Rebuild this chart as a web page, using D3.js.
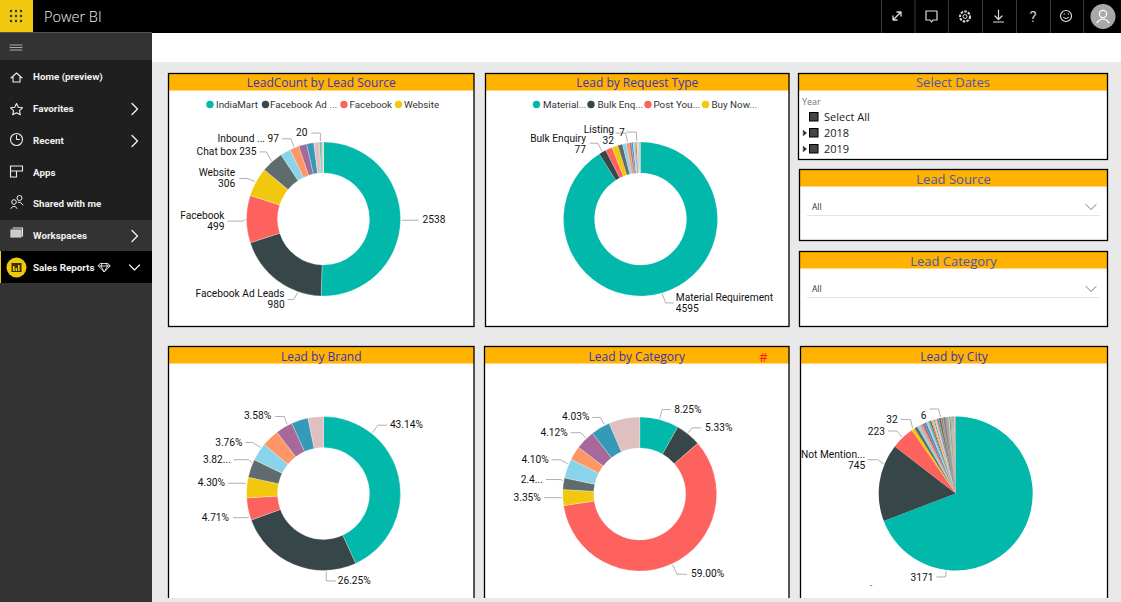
<!DOCTYPE html>
<html><head><meta charset="utf-8">
<script src="https://cdnjs.cloudflare.com/ajax/libs/d3/7.8.5/d3.min.js"></script>
<style>html,body{margin:0;padding:0;background:#fff;overflow:hidden}svg{display:block}text{font-family:Roboto,sans-serif}</style>
</head><body><svg id="c" width="1121" height="602"></svg>
<script>
// ---------- data ----------
const palette = ['#01B8AA','#374649','#FD625E','#F2C80F','#5F6B6D','#8AD4EB','#FE9666','#A66999','#3599B8','#DFBFBF','#4AC5BB','#5F6B6D','#FB8281','#F4D25A','#7F898A','#A4DDEE','#FDAB89','#B687AC','#28738A','#A78F8F','#168980','#293537','#BB4A4A','#B59525','#475052','#6A9FB0','#BD7150','#7B4F71','#1F5A6B','#8B7575','#7F898A','#5F6B6D','#A78F8F','#B59525','#7F898A','#6A9FB0','#D9C9A8','#B8B8A8'];
const sourceValues = [2538,980,499,306,235,108,97,85,75,60,20,10,7,5];
const sourceLegend = ['IndiaMart','Facebook Ad ...','Facebook','Website'];
const requestValues = [4595,77,72,65,50,40,32,22,18,15,11,10,7,7,6,5,5,4,4,4];
const requestLegend = ['Material...','Bulk Enq...','Post You...','Buy Now...'];
const brandValues = [43.14,26.25,4.71,4.30,3.82,3.76,3.70,3.58,3.50,3.24];
const categoryValues = [8.25,5.33,59.00,3.35,2.44,4.10,2.90,4.12,4.03,6.48];
const cityValues = [3171,745,223,32,30,28,25,22,20,18,16,14,13,12,11,10,9,8,8,7,7,7,6,6,6,6,6,6,6,5,5,5,5,5,5,5,5,4,4,4,4,4,4,4,4,3,3,3,3,3,3,2,2,2,2,2,2,2];
const yearItems = ['Select All','2018','2019'];
const panelTitles = ['LeadCount by Lead Source','Lead by Request Type','Lead by Brand','Lead by Category','Lead by City'];
const slicerTitles = ['Select Dates','Lead Source','Lead Category'];
const navItems = ['Home (preview)','Favorites','Recent','Apps','Shared with me','Workspaces','Sales Reports'];

// label texts per slice index
const sourceLabels = {0:['2538'],1:['Facebook Ad Leads','980'],2:['Facebook','499'],3:['Website','306'],4:['Chat box 235'],6:['Inbound ... 97'],10:['20']};
const requestLabels = {0:['Material Requirement','4595'],1:['Bulk Enquiry','77'],6:['Listing','32'],12:['7']};
const brandLabels = {0:['43.14%'],1:['26.25%'],2:['4.71%'],3:['4.30%'],4:['3.82...'],5:['3.76%'],7:['3.58%']};
const categoryLabels = {0:['8.25%'],1:['5.33%'],2:['59.00%'],3:['3.35%'],4:['2.4...'],5:['4.10%'],7:['4.12%'],8:['4.03%']};
const cityLabels = {0:['3171'],1:['Not Mention...','745'],2:['223'],3:['32'],22:['6']};

// ---------- layout ----------
// leader routing per slice: f = fraction along slice, dx/dy = elbow offset, h = run, ty = text shift, gap = text gap
const sourceLeaders = {0:{f:.5,dx:2,dy:0,h:15,gap:4},1:{f:.25,dx:-4,dy:7,h:6},2:{f:.5,dx:-2,dy:2,h:16},3:{f:.5,dx:-8,dy:-3,h:8,gap:4},4:{f:.5,dx:-5,dy:-9,h:7},6:{f:.5,dx:-3,dy:-8,h:9},10:{f:.5,dx:0,dy:-8,h:9,gap:4}};
const requestLeaders = {0:{f:.5,dx:3.5,dy:9,h:8,ty:.5,gap:2},1:{f:.5,dx:-4,dy:-8,h:8,ty:1.5,gap:4},6:{f:.5,dx:-2,dy:-9,h:10,ty:2,gap:1.5},12:{f:.5,dx:-.5,dy:-9,h:10,ty:1,gap:1.5}};
const brandLeaders = {0:{f:.25,dx:5.5,dy:-7.5,h:9},1:{f:.24,dx:0,dy:9.5,h:9.5,gap:2},2:{f:.17,dx:-2,dy:1,h:14,gap:4},3:{f:.65,dx:-2,dy:-1,h:16},4:{f:.8,dx:-3,dy:-3,h:15},5:{f:.75,dx:-8,dy:-5,h:7},7:{f:.73,dx:-3,dy:-8,h:9,gap:4}};
const categoryLeaders = {0:{f:.5,dx:2.5,dy:-9,h:8,gap:4},1:{f:.45,dx:4,dy:-5,h:9,gap:4},2:{f:.5,dx:4.5,dy:9.5,h:10,gap:4},3:{f:.5,dx:-3,dy:0,h:15},4:{f:.75,dx:-2,dy:-1,h:15},5:{f:.72,dx:-7,dy:-4,h:9},7:{f:.6,dx:-5,dy:-5,h:10},8:{f:.75,dx:-4,dy:-7,h:8}};
const cityLeaders = {0:{f:.75,dx:-1,dy:6,h:9,ty:1},1:{f:.74,dx:-6,dy:-4,h:10,ty:1,gap:2.5},2:{f:.5,dx:-5,dy:-6,h:9,ty:1},3:{f:.5,dx:-2,dy:-9,h:10},22:{f:.5,dx:-2,dy:-8,h:9,ty:7}};

const svg = d3.select('#c');
const rect=(x,y,w,h,fill,extra={})=>{const r=svg.append('rect').attr('x',x).attr('y',y).attr('width',w).attr('height',h).attr('fill',fill);for(const k in extra)r.attr(k,extra[k]);return r;};
const txt=(g,x,y,s,size,fill,anchor='start',fam)=>{const t=g.append('text').attr('x',x).attr('y',y).attr('fill',fill).attr('font-size',size).attr('text-anchor',anchor).attr('dominant-baseline','central').text(s);if(fam)t.style('font-family',fam);return t;};
const path=(d,stroke,w=1.2,fill='none')=>svg.append('path').attr('d',d).attr('stroke',stroke).attr('stroke-width',w).attr('fill',fill).attr('stroke-linecap','round').attr('stroke-linejoin','round');

// page
rect(0,0,1121,602,'#e9e9e9');
rect(152,33,969,29,'#ffffff');
rect(0,0,1121,33,'#000000');
rect(0,33,152,569,'#333333');
rect(0,60,152,160,'#1f1f1f');
rect(0,251,152,32,'#000000');
rect(0,251,1,32,'#f2c80f');
rect(0,0,33,33,'#f2c80f');
const grid=[11,16,21];
grid.forEach(x=>grid.forEach(y=>svg.append('circle').attr('cx',x).attr('cy',y).attr('r',1.2).attr('fill','#333')));
txt(svg,44,16.5,'Power BI',14.5,'#f4f4f4','start','"Open Sans"').attr('font-weight',300);
[881,914.5,948,982,1016,1050,1083].forEach(x=>rect(x,0,1,33,'#3a3a3a'));
rect(0,32,152,1,'#555');
// top-right icons
path('M893 20L901 12M893 16v4h4M897 12h4v4','#ddd',1.3);
path('M926 11h11v9h-4l-1.5 2-1.5-2h-4z','#ddd',1.2);
svg.append('circle').attr('cx',965).attr('cy',16.5).attr('r',5).attr('fill','none').attr('stroke','#ddd').attr('stroke-width',2).attr('stroke-dasharray','2.5 1.2');
svg.append('circle').attr('cx',965).attr('cy',16.5).attr('r',2).attr('fill','none').attr('stroke','#ddd');
path('M998.5 10v9M995 16l3.5 3.5 3.5-3.5M993.5 22h10','#ddd',1.2);
txt(svg,1033,16.5,'?',15,'#cccccc','middle');
svg.append('circle').attr('cx',1066).attr('cy',16).attr('r',5.5).attr('fill','none').attr('stroke','#ddd').attr('stroke-width',1.2);
path('M1063.5 17.5q2.500 2.500 5 0M1064 14h.6M1068 14h.6','#ddd',1);
svg.append('circle').attr('cx',1103).attr('cy',16.5).attr('r',12.5).attr('fill','#a8a8a8');
svg.append('circle').attr('cx',1103).attr('cy',14).attr('r',3.6).attr('fill','none').attr('stroke','#fff').attr('stroke-width',1.2);
path('M1097 22.500q6-7 12 0','#fff',1.2);

// sidebar
path('M10 45h12M10 47.500h12M10 50h12','#aaa',1);
const navY=[76.5,108.5,140.5,172.5,203.5,235.5,267.5];
navItems.forEach((s,i)=>{
  txt(svg,33,navY[i],s,9.8,'#f0f0f0','start').attr('font-weight',700);
  if(i==1||i==2||i==5) path(`M132 ${navY[i]-5}l5.500 5.500-5.500 5.500`,'#eee',1.4);
});
path('M129.5 265l5 5 5-5','#eee',1.3);
path('M11 78l5.500-5 5.500 5M13 77v5h7v-5','#eee',1.1);
path('M16.500 103.500l1.800 3.800 4.200.5-3 2.900.8 4.100-3.800-2-3.800 2 .8-4.100-3-2.900 4.200-.5z','#eee',1.1);
svg.append('circle').attr('cx',16.500).attr('cy',139.500).attr('r',6).attr('fill','none').attr('stroke','#eee').attr('stroke-width',1.1);
path('M16.500 135.500v4h3','#eee',1);
path('M10.500 166h12v5h-6v6h-6zM16.500 171v6h-6M10.500 171h6','#eee',1.1);
svg.append('circle').attr('cx',19.500).attr('cy',198).attr('r',2.500).attr('fill','none').attr('stroke','#eee');
svg.append('circle').attr('cx',14).attr('cy',202).attr('r',2.300).attr('fill','none').attr('stroke','#eee');
path('M11 208.500q3-5 6 0M18 202q3-.5 5 3','#eee',1);
path('M11 230h10v7H11zM13 228h9.500v8','#eee',1.1);
rect(11,230,10,7,'#ccc');
svg.append('circle').attr('cx',16.500).attr('cy',267.500).attr('r',10).attr('fill','#f2c80f');
rect(11.500,263,10,9,'#3a3000');
[[13,5],[15.500,3],[18,6]].forEach(p=>rect(p[0],272-p[1]-1,1.6,p[1],'#f2c80f'));
path('M100.500 263.5h7.500l2 2.500-5.750 6-5.750-6zM98.500 266h11.500M102 263.5l-1 2.500 3.250 6 3.250-6-1-2.500','#eee',.9);

// panels
const gold='#ffb200', titleBlue='#3a34b8';
function frame(x,y,w,h,title,size=12,color=titleBlue,ty=9){
  rect(x,y,w,h,'#ffffff');
  rect(x,y,w,17,gold);
  svg.append('rect').attr('x',x).attr('y',y).attr('width',w).attr('height',h).attr('fill','none').attr('stroke','#000').attr('stroke-width',1.3);
  txt(svg,x+w/2,y+ty,title,size,color,'middle','"Open Sans"');
}
const bottomClip=598;
frame(168.5,73.5,305.5,253,panelTitles[0]);
frame(485.5,73.5,303.5,253,panelTitles[1]);
frame(168.5,346.5,305.5,bottomClip-346.5+2,panelTitles[2],12,titleBlue,9.5);
frame(484.5,346.5,304.5,bottomClip-346.5+2,panelTitles[3],12,titleBlue,9.5);
frame(800.5,346.5,307,bottomClip-346.5+2,panelTitles[4],12,titleBlue,9.5);
rect(152,598,969,4,'#e9e9e9');
txt(svg,763.5,357,'#',13,'#ff1a1a','middle','"Open Sans"');
frame(798.5,73.5,309,86,slicerTitles[0],13,'#4a55b5',8.5);
frame(799.5,169.5,308,71,slicerTitles[1],13,'#4a55b5',9);
frame(799.5,251.5,308,75,slicerTitles[2],13,'#4a55b5',9);

txt(svg,802,101,'Year',9,'#777','start','"Open Sans"');
const rowY=[117,133,149];
yearItems.forEach((s,i)=>{
  svg.append('rect').attr('x',809.500).attr('y',rowY[i]-4.500).attr('width',8.500).attr('height',8.500).attr('fill','#444').attr('stroke','#000').attr('stroke-width',1);
  txt(svg,824,rowY[i]-.5,s,11,'#222','start','"Open Sans"');
  if(i>0) path(`M803.500 ${rowY[i]-2.500}l3 2.500-3 2.500z`,'#222',.6,'#222');
});
[[206.5,215],[288.5,297]].forEach(([ty,ly])=>{
  txt(svg,812,ty,'All',8.500,'#333','start','"Open Sans"');
  rect(807,ly,293,1,'#e4e4e4');
  path(`M1086 ${ty-2}l5 5 5-5`,'#666',.9);
});

// pies
function pieChart({cx,cy,values,labels,leaders,inner,sep=.35}){
  const R=77;
  const arcs=d3.pie().sort(null).value(d=>d)(values);
  const arc=d3.arc().innerRadius(inner).outerRadius(R);
  const g=svg.append('g').attr('transform',`translate(${cx},${cy})`);
  g.selectAll('path').data(arcs).join('path').attr('d',arc)
    .attr('fill',(d,i)=>palette[i%palette.length]).attr('stroke',sep?'#fff':'none').attr('stroke-width',sep).attr('stroke-opacity',.8);
  Object.keys(labels).forEach(k=>{
    const d=arcs[+k], L=leaders[k], a=d.startAngle+(d.endAngle-d.startAngle)*L.f;
    const ax=Math.sin(a)*(R+1), ay=-Math.cos(a)*(R+1);
    const ex=ax+L.dx, ey=ay+L.dy;
    const side=(L.side!=null?L.side:(Math.sin(a)>=0?1:-1));
    const fx=ex+side*L.h;
    g.append('path').attr('d',d3.line()([[ax,ay],[ex,ey],[fx,ey]])).attr('fill','none').attr('stroke','#a6a6a6').attr('stroke-width',.9);
    const lines=labels[k], lh=11, gap=L.gap!=null?L.gap:3;
    lines.forEach((s,i)=>{
      txt(g,fx+side*gap,ey+(L.ty||0)-.5+(i-(lines.length-1)/2)*lh,s,10.2,'#111',side>0?'start':'end');
    });
  });
}
pieChart({cx:323.5,cy:219,values:sourceValues,labels:sourceLabels,leaders:sourceLeaders,inner:46});
pieChart({cx:640.5,cy:219,values:requestValues,labels:requestLabels,leaders:requestLeaders,inner:46,sep:.2});
pieChart({cx:323.5,cy:493.5,values:brandValues,labels:brandLabels,leaders:brandLeaders,inner:46});
pieChart({cx:639.7,cy:494,values:categoryValues,labels:categoryLabels,leaders:categoryLeaders,inner:46});
pieChart({cx:955.7,cy:493.5,values:cityValues,labels:cityLabels,leaders:cityLeaders,inner:0,sep:0});
txt(svg,871,585,'-',8,'#222','middle');

// legends
function legend(items,dotX,textX){
  items.forEach((s,i)=>{
    svg.append('circle').attr('cx',dotX[i]).attr('cy',104.500).attr('r',3.700).attr('fill',palette[i]);
    txt(svg,textX[i],104,s,9.8,'#333');
  });
}
legend(sourceLegend,[210,265.500,344,398.500],[216,270,349.500,404]);
legend(requestLegend,[536.500,591,648,705.500],[543,597.500,653.500,711.500]);
</script></body></html>
